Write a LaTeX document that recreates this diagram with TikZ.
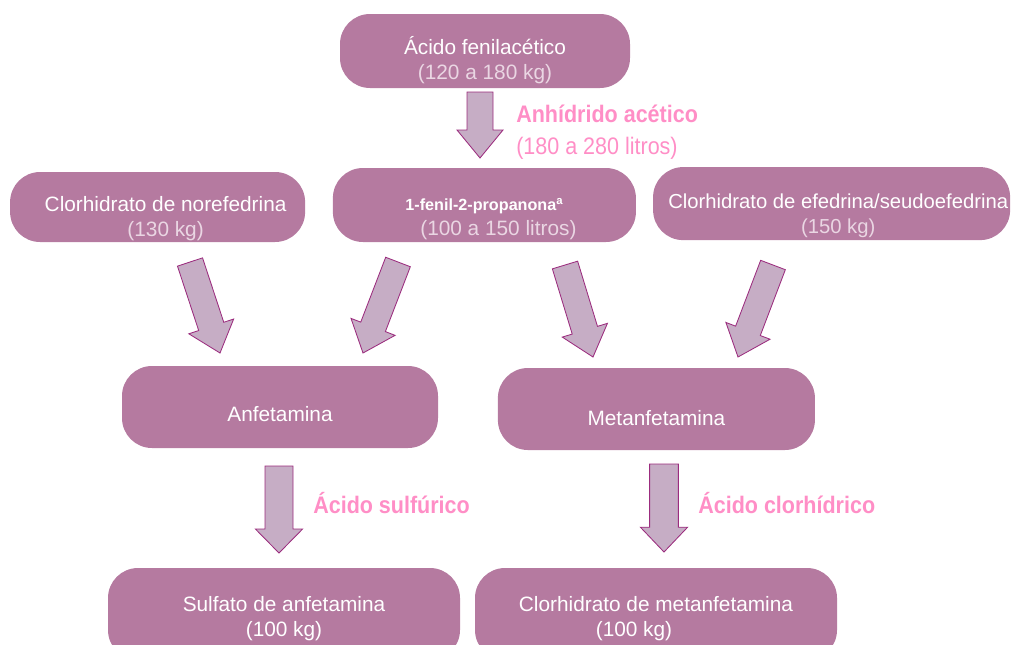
\documentclass[tikz,border=0pt]{standalone}
\usepackage{fontspec}
\setmainfont{Liberation Sans}
\newfontfamily\condfont[FakeStretch=0.9]{Liberation Sans}
\usetikzlibrary{calc}

\definecolor{boxfill}{HTML}{B57AA0}
\definecolor{amt}{HTML}{EAD6E3}
\definecolor{arrfill}{HTML}{C6ADC5}
\definecolor{arrline}{HTML}{9B2C7E}
\definecolor{reagent}{HTML}{FF8EC6}

% block arrow: start, tip, half shaft, half head, head length
\newcommand{\fatarrow}[5]{%
  \coordinate (#1h) at ($(#2)!#5!(#1)$);
  \draw[arr] ($(#1)!#3!90:(#2)$) -- ($(#1h)!#3!90:(#2)$) -- ($(#1h)!#4!90:(#2)$)
    -- (#2) -- ($(#1h)!#4!-90:(#2)$) -- ($(#1h)!#3!-90:(#2)$) -- ($(#1)!#3!-90:(#2)$) -- cycle;}

\begin{document}
\begin{tikzpicture}[
    box/.style={fill=boxfill, rounded corners=0.75cm, inner sep=0pt},
    boxtxt/.style={text=white, align=center, inner sep=0pt,
      font=\fontsize{14.8}{17.8}\selectfont},
    arr/.style={fill=arrfill, draw=arrline, line width=0.6pt, line join=miter},
    reagentlbl/.style={text=reagent, anchor=west, align=left, inner sep=0pt,
      font=\condfont\fontsize{17}{22.7}\selectfont}]

  \useasboundingbox (0,0) rectangle (25.35,-16.1);
  \clip (0,0) rectangle (25.35,-16.1);

  % substances
  \node[box, minimum width=7.25cm, minimum height=1.85cm] (fenil) at (12.125,-1.275) {};
  \node[box, minimum width=7.375cm, minimum height=1.75cm] (noref) at (3.94,-5.175) {};
  \node[box, minimum width=7.575cm, minimum height=1.85cm] (p2p) at (12.11,-5.125) {};
  \node[box, minimum width=8.925cm, minimum height=1.825cm] (efed) at (20.79,-5.09) {};
  \node[box, minimum width=7.9cm, minimum height=2.05cm] (anf) at (7.0,-10.175) {};
  \node[box, minimum width=7.925cm, minimum height=2.05cm] (metanf) at (16.41,-10.225) {};
  \node[box, minimum width=8.8cm, minimum height=2.3cm] (sulf) at (7.1,-15.35) {};
  \node[box, minimum width=9.05cm, minimum height=2.3cm] (clmet) at (16.4,-15.35) {};

  \node[boxtxt] (fenilt) at ([yshift=-0.225cm]fenil)
    {Ácido fenilacético\\{\color{amt}(120 a 180 kg)}};
  \node[boxtxt] (noreft) at ([xshift=0.2cm,yshift=-0.3cm]noref)
    {Clorhidrato de norefedrina\\{\color{amt}(130 kg)}};
  \node[boxtxt] (p2pt) at ([yshift=-0.36cm]p2p)
    {{\bfseries\fontsize{11.5}{17.8}\selectfont 1-fenil-2-propanona\textsuperscript{a}}\\
     \hspace*{0.7cm}{\color{amt}(100 a 150 litros)}};
  \node[boxtxt, anchor=north west, font=\fontsize{14.4}{17.8}\selectfont] (efedt) at (16.7,-4.84)
    {Clorhidrato de efedrina/seudoefedrina\\{\color{amt}(150 kg)}};
  \node[boxtxt] (anft) at ([yshift=-0.175cm]anf) {Anfetamina};
  \node[boxtxt] (metanft) at ([yshift=-0.225cm]metanf) {Metanfetamina};
  \node[boxtxt] (sulft) at ([yshift=-0.125cm]sulf) {Sulfato de anfetamina\\(100 kg)};
  \node[boxtxt] (clmett) at ([yshift=-0.125cm]clmet)
    {Clorhidrato de metanfetamina\\\hspace*{-1.1cm}(100 kg)};

  % arrow ends
  \coordinate (t1s) at (12.0,-2.3);    \coordinate (t1t) at (12.0,-3.95);
  \coordinate (d1s) at (4.75,-6.55);   \coordinate (d1t) at (5.5,-8.825);
  \coordinate (d2s) at (9.95,-6.55);   \coordinate (d2t) at (9.075,-8.825);
  \coordinate (d3s) at (14.125,-6.625); \coordinate (d3t) at (14.825,-8.925);
  \coordinate (d4s) at (19.325,-6.625); \coordinate (d4t) at (18.45,-8.925);
  \coordinate (b1s) at (6.975,-11.65); \coordinate (b1t) at (6.975,-13.825);
  \coordinate (b2s) at (16.6,-11.6);   \coordinate (b2t) at (16.6,-13.8);

  \fatarrow{t1s}{t1t}{0.325cm}{0.575cm}{0.7cm}
  \fatarrow{d1s}{d1t}{0.33cm}{0.59cm}{0.7cm}
  \fatarrow{d2s}{d2t}{0.33cm}{0.59cm}{0.7cm}
  \fatarrow{d3s}{d3t}{0.33cm}{0.59cm}{0.7cm}
  \fatarrow{d4s}{d4t}{0.33cm}{0.59cm}{0.7cm}
  \fatarrow{b1s}{b1t}{0.35cm}{0.59cm}{0.6cm}
  \fatarrow{b2s}{b2t}{0.36cm}{0.59cm}{0.62cm}

  % reagents
  \node[reagentlbl] (anhid) at (12.9,-3.3)
    {{\bfseries Anhídrido acético}\\(180 a 280 litros)};
  \node[reagentlbl, font=\condfont\bfseries\fontsize{17}{22.7}\selectfont] (sulfu) at (7.825,-12.575)
    {Ácido sulfúrico};
  \node[reagentlbl, font=\condfont\bfseries\fontsize{17}{22.7}\selectfont] (clorh) at (17.45,-12.575)
    {Ácido clorhídrico};

\end{tikzpicture}
\end{document}
